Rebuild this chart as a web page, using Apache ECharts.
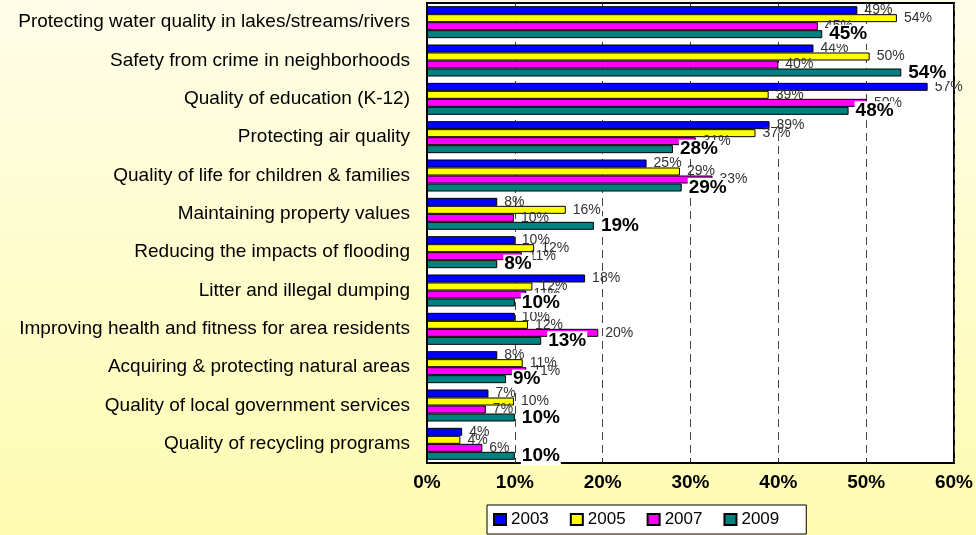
<!DOCTYPE html>
<html>
<head>
<meta charset="utf-8">
<script src="https://cdn.jsdelivr.net/npm/echarts@6.0.0/dist/echarts.min.js"></script>
<style>
  html, body { margin: 0; padding: 0; }
  #chart { width: 976px; height: 535px; }
</style>
</head>
<body>
<div id="chart"></div>
<script>
// categories, top to bottom
const categories = [
  "Protecting water quality in lakes/streams/rivers",
  "Safety from crime in neighborhoods",
  "Quality of education (K-12)",
  "Protecting air quality",
  "Quality of life for children & families",
  "Maintaining property values",
  "Reducing the impacts of flooding",
  "Litter and illegal dumping",
  "Improving health and fitness for area residents",
  "Acquiring & protecting natural areas",
  "Quality of local government services",
  "Quality of recycling programs"
];

// percent values
const v2003 = [49, 44, 57, 39, 25, 8, 10, 18, 10, 8, 7, 4];
const v2005 = [53.5, 50.4, 38.9, 37.4, 28.8, 15.8, 12.2, 12, 11.5, 10.9, 9.9, 3.8];
const v2007 = [44.5, 40, 50.1, 30.6, 32.5, 9.9, 10.8, 11.3, 19.5, 11.3, 6.7, 6.3];
const v2009 = [45, 54, 48, 28, 29, 19, 8, 10, 13, 9, 10, 10];

const years = ["2003", "2005", "2007", "2009"];
const colors = ["#0000ff", "#ffff00", "#ff00ff", "#008080"];
const values = [v2003, v2005, v2007, v2009];

const font = "Arial, 'Liberation Sans', sans-serif";
const pct = p => Math.round(p.value) + "%";

const chart = echarts.init(document.getElementById("chart"));

const series = years.map((y, i) => {
  const last = i === years.length - 1;
  return {
    name: y,
    type: "bar",
    data: values[i],
    barGap: "0%",
    barCategoryGap: "16.5%",
    itemStyle: { color: colors[i], borderColor: "#000", borderWidth: 1 },
    label: {
      show: true,
      position: "right",
      distance: last ? 6 : 7,
      formatter: pct,
      fontFamily: font,
      fontSize: last ? 19 : 14,
      fontWeight: last ? "bold" : "normal",
      color: last ? "#000" : "#333",
      backgroundColor: last ? "#fff" : "transparent",
      padding: last ? [0, 1, 0, 1] : 0
    }
  };
});

chart.setOption({
  backgroundColor: {
    type: "linear", x: 0, y: 0, x2: 0, y2: 1,
    colorStops: [
      { offset: 0, color: "#fffde8" },
      { offset: 1, color: "#fffcb2" }
    ]
  },
  animation: false,
  textStyle: { fontFamily: font },
  color: colors,
  legend: {
    data: years,
    left: 487,
    top: 505,
    backgroundColor: "#fff",
    borderColor: "#000",
    borderWidth: 1,
    borderRadius: 0,
    padding: [6, 27, 6, 6],
    itemWidth: 12,
    itemHeight: 11,
    itemGap: 21,
    icon: "rect",
    textStyle: { fontSize: 17, color: "#000", fontFamily: font }
  },
  grid: {
    left: 427, right: 21, top: 3, bottom: 72,
    show: true,
    backgroundColor: "#fff",
    borderColor: "#000",
    borderWidth: 2
  },
  xAxis: {
    type: "value",
    min: 0,
    max: 60,
    interval: 10,
    axisLine: { show: true, lineStyle: { color: "#000", width: 2 } },
    axisTick: { show: true, inside: true, length: 5, lineStyle: { color: "#333" } },
    splitLine: { show: true, lineStyle: { color: "#444", type: [8, 5], width: 1 } },
    axisLabel: {
      formatter: "{value}%",
      fontSize: 19,
      fontWeight: "bold",
      color: "#000",
      margin: 10,
      fontFamily: font
    }
  },
  yAxis: {
    type: "category",
    data: categories,
    inverse: true,
    axisLine: { show: true, lineStyle: { color: "#000", width: 2 } },
    axisTick: { show: false },
    axisLabel: { fontSize: 19, color: "#000", margin: 17, fontFamily: font }
  },
  series: series
});
</script>
</body>
</html>
